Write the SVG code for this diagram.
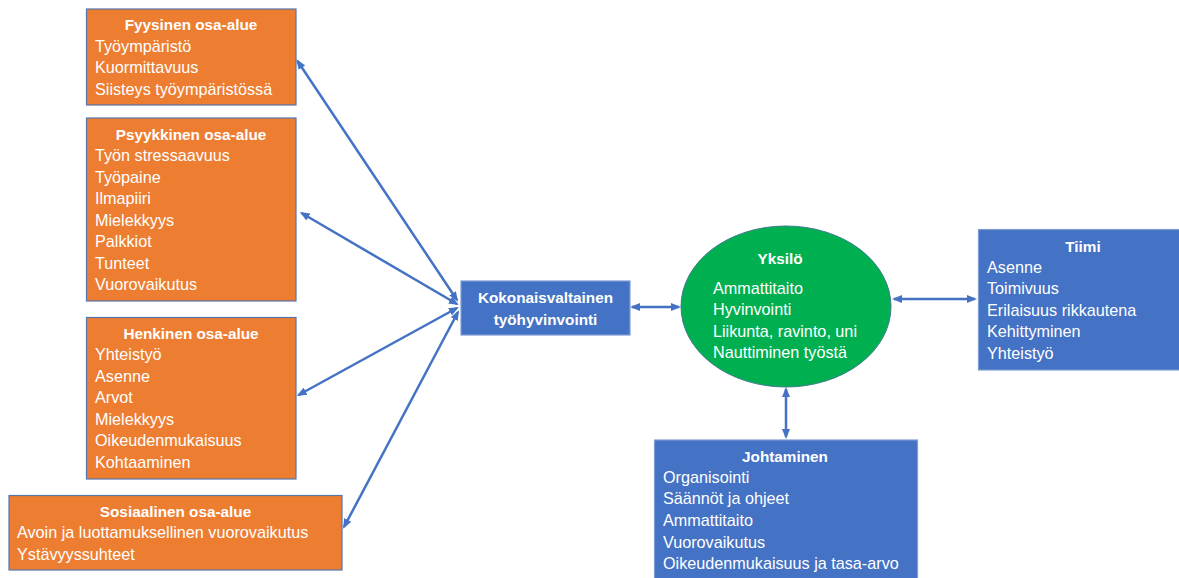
<svg xmlns="http://www.w3.org/2000/svg" width="1179" height="578" viewBox="0 0 1179 578">
<style>
.bg{fill:#ffffff}
.org{fill:#ED7D31;stroke:#5576AE;stroke-width:1.2}
.blu{fill:#4472C4;stroke:#7E9DD3;stroke-width:1.2}
.grn{fill:#00B050;stroke:#3F7A8C;stroke-width:1}
text{font-family:"Liberation Sans",Arial,sans-serif;fill:#ffffff;font-size:16.2px}
.t{font-weight:bold;font-size:15.3px;text-anchor:middle}
.c{stroke:#4472C4;stroke-width:2.5;fill:none;marker-start:url(#ah);marker-end:url(#ah)}
</style>
<defs>
<marker id="ah" viewBox="0 0 10 8" refX="8" refY="4" markerWidth="10" markerHeight="8" markerUnits="userSpaceOnUse" orient="auto-start-reverse">
<path d="M0,0 L10,4 L0,8 z" fill="#4472C4"/>
</marker>
</defs>
<rect class="bg" x="0" y="0" width="1179" height="578"/>

<g id="connectors">
<line class="c" x1="457" y1="300" x2="297.5" y2="61"/>
<line class="c" x1="457" y1="304" x2="301.5" y2="213"/>
<line class="c" x1="457" y1="308" x2="298.5" y2="395"/>
<line class="c" x1="458" y1="312" x2="344" y2="527"/>
<line class="c" x1="632" y1="307" x2="679" y2="307"/>
<line class="c" x1="894" y1="299" x2="975" y2="299"/>
<line class="c" x1="786" y1="389" x2="786" y2="437"/>
</g>

<g id="fyysinen">
<rect class="org" x="86.5" y="9" width="209.5" height="96"/>
<text class="t" x="191" y="30">Fyysinen osa-alue</text>
<text x="95" y="51.5">Työympäristö</text>
<text x="95" y="73">Kuormittavuus</text>
<text x="95" y="94.5">Siisteys työympäristössä</text>
</g>

<g id="psyykkinen">
<rect class="org" x="86.5" y="118" width="209.5" height="183"/>
<text class="t" x="191" y="139.5">Psyykkinen osa-alue</text>
<text x="95" y="161">Työn stressaavuus</text>
<text x="95" y="182.5">Työpaine</text>
<text x="95" y="204">Ilmapiiri</text>
<text x="95" y="225.5">Mielekkyys</text>
<text x="95" y="247">Palkkiot</text>
<text x="95" y="268.5">Tunteet</text>
<text x="95" y="290">Vuorovaikutus</text>
</g>

<g id="henkinen">
<rect class="org" x="86.5" y="317.5" width="209.5" height="161.5"/>
<text class="t" x="191" y="338.5">Henkinen osa-alue</text>
<text x="95" y="360">Yhteistyö</text>
<text x="95" y="381.5">Asenne</text>
<text x="95" y="403">Arvot</text>
<text x="95" y="424.5">Mielekkyys</text>
<text x="95" y="446">Oikeudenmukaisuus</text>
<text x="95" y="467.5">Kohtaaminen</text>
</g>

<g id="sosiaalinen">
<rect class="org" x="9" y="495.5" width="333" height="74.5"/>
<text class="t" x="175.5" y="516.5">Sosiaalinen osa-alue</text>
<text x="17" y="538">Avoin ja luottamuksellinen vuorovaikutus</text>
<text x="17" y="559.5">Ystävyyssuhteet</text>
</g>

<g id="kokonaisvaltainen">
<rect class="blu" x="461" y="281" width="169" height="54"/>
<text class="t" x="545.5" y="302.5">Kokonaisvaltainen</text>
<text class="t" x="545.5" y="324.5">työhyvinvointi</text>
</g>

<g id="yksilo">
<ellipse class="grn" cx="786" cy="306.5" rx="105" ry="80.5"/>
<text class="t" x="780" y="263.5">Yksilö</text>
<text x="713" y="293.5">Ammattitaito</text>
<text x="713" y="315">Hyvinvointi</text>
<text x="713" y="336.5">Liikunta, ravinto, uni</text>
<text x="713" y="358">Nauttiminen työstä</text>
</g>

<g id="tiimi">
<rect class="blu" x="978.5" y="229.5" width="202" height="140.5"/>
<text class="t" x="1083" y="251.5">Tiimi</text>
<text x="987" y="272.5">Asenne</text>
<text x="987" y="294">Toimivuus</text>
<text x="987" y="315.5">Erilaisuus rikkautena</text>
<text x="987" y="337">Kehittyminen</text>
<text x="987" y="358.5">Yhteistyö</text>
</g>

<g id="johtaminen">
<rect class="blu" x="654.5" y="440" width="263" height="140"/>
<text class="t" x="785" y="461.5">Johtaminen</text>
<text x="663" y="482.5">Organisointi</text>
<text x="663" y="504">Säännöt ja ohjeet</text>
<text x="663" y="526">Ammattitaito</text>
<text x="663" y="547.5">Vuorovaikutus</text>
<text x="663" y="569">Oikeudenmukaisuus ja tasa-arvo</text>
</g>
</svg>
